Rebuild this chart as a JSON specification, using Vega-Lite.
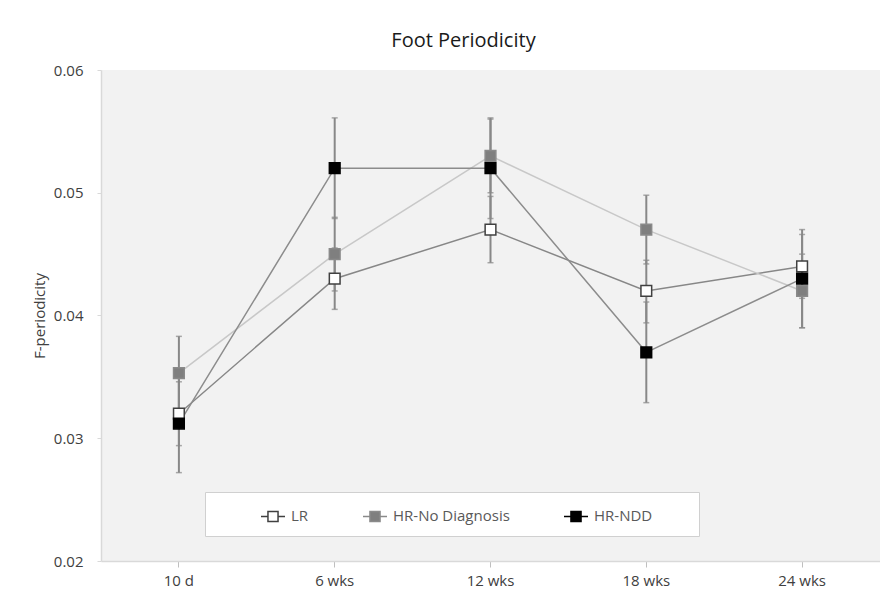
{
  "$schema": "https://vega.github.io/schema/vega-lite/v6.json",
  "autosize": {"type": "none"},
  "padding": {"left": 101, "top": 70, "right": 0, "bottom": 36},
  "width": 779,
  "height": 491,
  "background": "white",
  "config": {
    "font": "Open Sans",
    "view": {"fill": "#f2f2f2", "stroke": null}
  },
  "title": {
    "text": "Foot Periodicity",
    "fontSize": 20,
    "fontWeight": "normal",
    "color": "#1a1a1a",
    "anchor": "middle",
    "dx": -27,
    "offset": 12
  },
  "data": {
    "values": [
      {"time": "10 d", "series": "LR", "value": 0.032, "lo": 0.0294, "hi": 0.0346},
      {"time": "10 d", "series": "HR-No Diagnosis", "value": 0.0353, "lo": 0.0323, "hi": 0.0383},
      {"time": "10 d", "series": "HR-NDD", "value": 0.0312, "lo": 0.0272, "hi": 0.0352},
      {"time": "6 wks", "series": "LR", "value": 0.043, "lo": 0.0405, "hi": 0.0455},
      {"time": "6 wks", "series": "HR-No Diagnosis", "value": 0.045, "lo": 0.042, "hi": 0.048},
      {"time": "6 wks", "series": "HR-NDD", "value": 0.052, "lo": 0.0479, "hi": 0.0561},
      {"time": "12 wks", "series": "LR", "value": 0.047, "lo": 0.0443, "hi": 0.0497},
      {"time": "12 wks", "series": "HR-No Diagnosis", "value": 0.053, "lo": 0.05, "hi": 0.056},
      {"time": "12 wks", "series": "HR-NDD", "value": 0.052, "lo": 0.0479, "hi": 0.0561},
      {"time": "18 wks", "series": "LR", "value": 0.042, "lo": 0.0394, "hi": 0.0445},
      {"time": "18 wks", "series": "HR-No Diagnosis", "value": 0.047, "lo": 0.0442, "hi": 0.0498},
      {"time": "18 wks", "series": "HR-NDD", "value": 0.037, "lo": 0.0329, "hi": 0.0411},
      {"time": "24 wks", "series": "LR", "value": 0.044, "lo": 0.0414, "hi": 0.0466},
      {"time": "24 wks", "series": "HR-No Diagnosis", "value": 0.042, "lo": 0.039, "hi": 0.045},
      {"time": "24 wks", "series": "HR-NDD", "value": 0.043, "lo": 0.039, "hi": 0.047}
    ]
  },
  "encoding": {
    "x": {
      "field": "time",
      "type": "nominal",
      "sort": ["10 d", "6 wks", "12 wks", "18 wks", "24 wks"],
      "scale": {"type": "band", "paddingInner": 0, "paddingOuter": 0},
      "axis": {
        "title": null,
        "labelAngle": 0,
        "labelFontSize": 15,
        "labelColor": "#404040",
        "labelPadding": 6,
        "domainColor": "#d9d9d9",
        "domainWidth": 1.5,
        "tickColor": "#bfbfbf",
        "tickSize": 6,
        "grid": false
      }
    }
  },
  "layer": [
    {
      "mark": {"type": "line", "strokeWidth": 1.5},
      "encoding": {
        "y": {
          "field": "value",
          "type": "quantitative",
          "scale": {"domain": [0.02, 0.06], "nice": false, "zero": false},
          "axis": {
            "title": "F-periodicity",
            "titleFontSize": 15,
            "titleFontWeight": "normal",
            "titleColor": "#404040",
            "titlePadding": 6,
            "values": [0.02, 0.03, 0.04, 0.05, 0.06],
            "format": ".2f",
            "labelFontSize": 15,
            "labelColor": "#404040",
            "labelPadding": 14,
            "domainColor": "#d9d9d9",
            "domainWidth": 1.5,
            "tickColor": "#d9d9d9",
            "tickSize": 4,
            "grid": false
          }
        },
        "color": {
          "field": "series",
          "type": "nominal",
          "scale": {"domain": ["HR-NDD", "HR-No Diagnosis", "LR"], "range": ["#8c8c8c", "#c8c8c8", "#878787"]},
          "legend": null
        },
        "order": {"value": null}
      }
    },
    {
      "mark": {"type": "rule", "color": "#888888", "strokeWidth": 2},
      "encoding": {
        "y": {"field": "lo", "type": "quantitative"},
        "y2": {"field": "hi"}
      }
    },
    {
      "mark": {"type": "tick", "color": "#888888", "thickness": 1.5, "size": 6},
      "encoding": {"y": {"field": "lo", "type": "quantitative"}}
    },
    {
      "mark": {"type": "tick", "color": "#888888", "thickness": 1.5, "size": 6},
      "encoding": {"y": {"field": "hi", "type": "quantitative"}}
    },
    {
      "mark": {"type": "point", "shape": "square", "size": 115, "strokeWidth": 1.5, "opacity": 1, "filled": true},
      "encoding": {
        "y": {"field": "value", "type": "quantitative"},
        "fill": {
          "field": "series",
          "type": "nominal",
          "scale": {"domain": ["LR", "HR-No Diagnosis", "HR-NDD"], "range": ["#ffffff", "#7f7f7f", "#000000"]},
          "legend": {
            "orient": "none",
            "legendX": 104,
            "legendY": 422,
            "direction": "horizontal",
            "title": "    ",
            "titleOrient": "right",
            "titleFontSize": 14,
            "titlePadding": 36,
            "fillColor": "#ffffff",
            "strokeColor": "#d0d0d0",
            "padding": 11,
            "symbolType": "M-1,0H-0.42M0.42,0H1M-0.42,-0.42H0.42V0.42H-0.42Z",
            "symbolSize": 576,
            "symbolStrokeWidth": 1.5,
            "symbolOffset": 44,
            "columnPadding": 9,
            "labelFontSize": 15,
            "labelColor": "#595959",
            "labelOffset": 5
          }
        },
        "stroke": {
          "field": "series",
          "type": "nominal",
          "scale": {"domain": ["LR", "HR-No Diagnosis", "HR-NDD"], "range": ["#404040", "#8a8a8a", "#000000"]},
          "legend": {
            "orient": "none",
            "legendX": 104,
            "legendY": 422,
            "direction": "horizontal",
            "title": "    ",
            "titleOrient": "right",
            "titleFontSize": 14,
            "titlePadding": 36,
            "fillColor": "#ffffff",
            "strokeColor": "#d0d0d0",
            "padding": 11,
            "symbolType": "M-1,0H-0.42M0.42,0H1M-0.42,-0.42H0.42V0.42H-0.42Z",
            "symbolSize": 576,
            "symbolStrokeWidth": 1.5,
            "symbolOffset": 44,
            "columnPadding": 9,
            "labelFontSize": 15,
            "labelColor": "#595959",
            "labelOffset": 5
          }
        }
      }
    }
  ]
}
